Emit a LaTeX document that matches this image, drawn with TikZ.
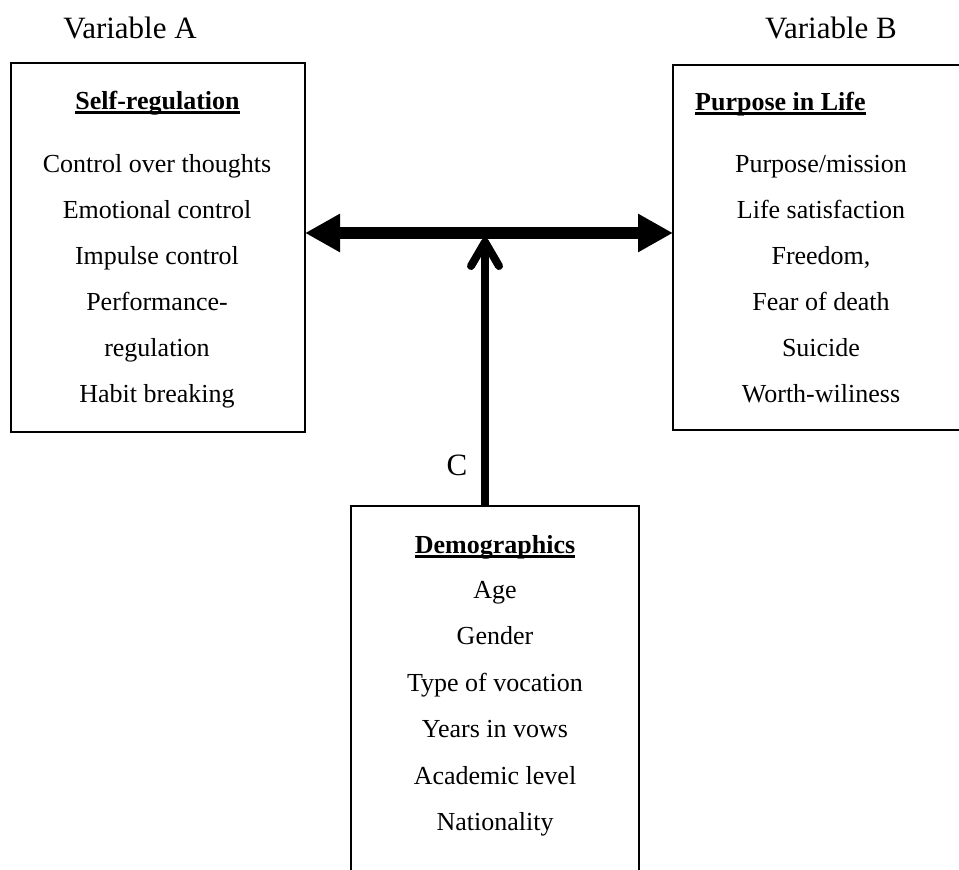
\documentclass[tikz,border=0pt]{standalone}
\usepackage{fontspec}
\setmainfont{Liberation Serif}
\newsavebox{\myulbox}
\newcommand{\myul}[1]{\sbox{\myulbox}{#1}\rlap{\rule[-4.5pt]{\wd\myulbox}{3pt}}\usebox{\myulbox}}
\usetikzlibrary{arrows.meta}
\begin{document}
\begin{tikzpicture}[x=1pt,y=-1pt,
  box/.style={draw, line width=2pt, inner sep=0pt, outer sep=0pt},
  item/.style={font=\fontsize{26}{30}\selectfont, anchor=base, inner sep=0pt},
  head/.style={font=\fontsize{26}{30}\selectfont\bfseries, anchor=base, inner sep=0pt},
  lbl/.style={font=\fontsize{31}{36}\selectfont, anchor=base, inner sep=0pt},
  dblarrow/.style={line width=12pt, {Triangle[length=35pt,width=36pt]}-{Triangle[length=35pt,width=36pt]}},
  uparrow/.style={line width=8pt, -{Straight Barb[length=24pt,width=28pt,line cap=round,line join=round]}}
]
\clip (0,0) rectangle (959,870);
\fill[white] (0,0) rectangle (959,870);

% boxes
\node[box, minimum width=294pt, minimum height=369pt] (A) at (158,247.5) {};
\node[box, minimum width=288pt, minimum height=365pt] (B) at (817,247.5) {};
\node[box, minimum width=288pt, minimum height=420pt] (C) at (495,716) {};

% titles
\node[lbl] (varA) at (130,38) {Variable A};
\node[lbl] (varB) at (831,38) {Variable B};
\node[lbl] (cl) at (457,475) {C};

% left box
\node[head] (hA) at (157.5,109) {\myul{Self-regulation}};
\foreach \t [count=\i] in {Control over thoughts, Emotional control, Impulse control, Performance-, regulation, Habit breaking}
  \node[item] (a\i) at (157,126+46*\i) {\t};

% right box
\node[head, anchor=base west] (hB) at (695,110) {\myul{Purpose in Life}};
\foreach \t [count=\i] in {Purpose/mission, Life satisfaction, {Freedom,}, Fear of death, Suicide, Worth-wiliness}
  \node[item] (b\i) at (821,126+46*\i) {\t};

% bottom box
\node[head] (hC) at (495,553) {\myul{Demographics}};
\foreach \t [count=\i] in {Age, Gender, Type of vocation, Years in vows, Academic level, Nationality}
  \node[item] (c\i) at (495,551.5+46.5*\i) {\t};

% connectors
\coordinate (J) at (485,233);
\draw[dblarrow] (A.east |- J) -- (B.west |- J);
\draw[uparrow] (C.north -| J) -- ([yshift=-5pt]J);
\end{tikzpicture}
\end{document}
